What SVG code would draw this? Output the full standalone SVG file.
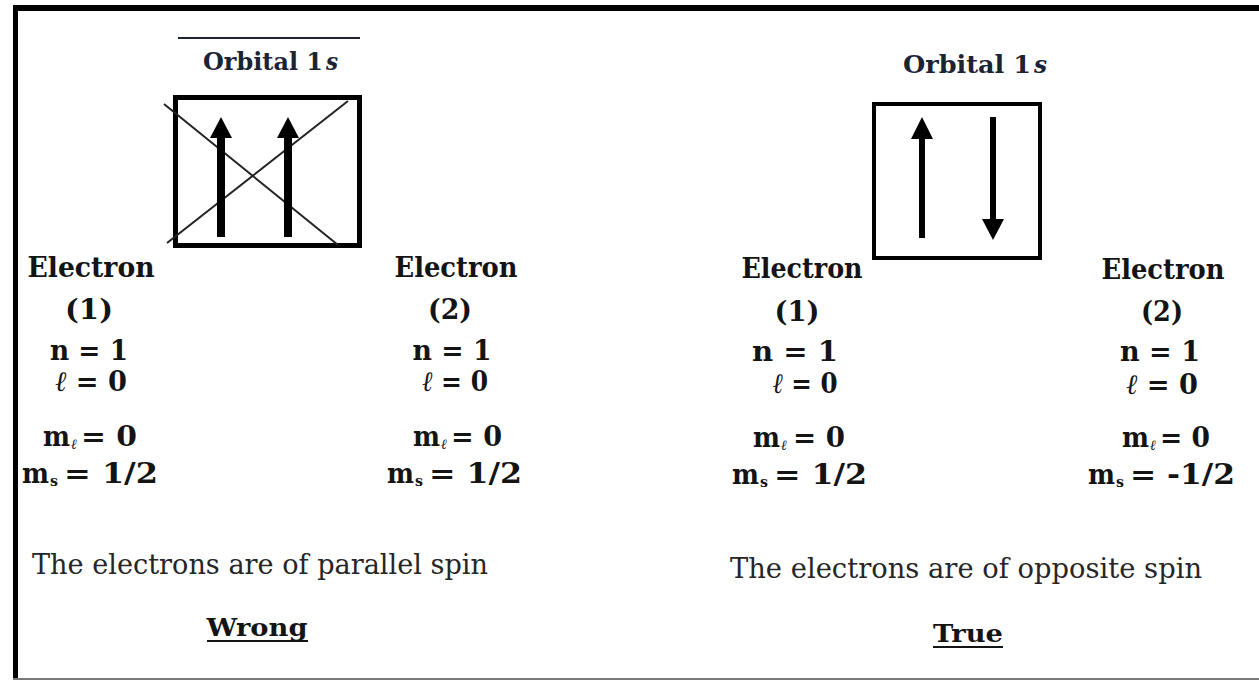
<svg xmlns="http://www.w3.org/2000/svg" width="1259" height="680" viewBox="0 0 1259 680">
  <style>
    .lbl { font-family: "DejaVu Serif", "Liberation Serif", serif; font-weight: bold; fill: #141414; text-anchor: middle; }
    .st { text-anchor: start; }
    .el { font-size: 28px; }
    .orb { font-size: 25px; fill: #1c2433; }
    .cap { font-family: "DejaVu Serif", "Liberation Serif", serif; font-size: 27px; fill: #262626; text-anchor: middle; }
    .verdict { font-family: "DejaVu Serif", "Liberation Serif", serif; font-weight: bold; font-size: 25px; fill: #141414; text-anchor: middle; }
    .sub { font-size: 14px; }
    .it { font-style: italic; }
    .box { fill: #ffffff; stroke: #000000; }
    .cross { stroke: #222222; stroke-width: 2; fill: none; }
    .shaft { stroke: #000000; fill: none; }
    .head { fill: #000000; }
  </style>
  <rect x="0" y="0" width="1259" height="680" fill="#ffffff"/>
  <g id="frame">
    <rect x="13" y="5" width="1246" height="6" fill="#000000"/>
    <rect x="13" y="5" width="5" height="675" fill="#000000"/>
    <rect x="13" y="678" width="1246" height="2" fill="#7a7a7a"/>
  </g>

  <g id="wrong-orbital">
    <line x1="178" y1="38" x2="360" y2="38" stroke="#1c2433" stroke-width="2"/>
    <text class="lbl st orb" x="203" y="70" textLength="120" lengthAdjust="spacingAndGlyphs">Orbital 1</text>
    <text class="lbl st orb it" x="326" y="70" textLength="12" lengthAdjust="spacingAndGlyphs">s</text>
    <rect class="box" x="175.5" y="97.5" width="184" height="148" stroke-width="5"/>
    <line class="cross" x1="164" y1="104" x2="338" y2="245"/>
    <line class="cross" x1="167" y1="243" x2="348" y2="101"/>
  </g>

  <g id="true-orbital">
    <text class="lbl st orb" x="903" y="73" textLength="128" lengthAdjust="spacingAndGlyphs">Orbital 1</text>
    <text class="lbl st orb it" x="1034" y="73" textLength="13" lengthAdjust="spacingAndGlyphs">s</text>
    <rect class="box" x="874" y="104" width="166" height="154" stroke-width="4"/>
  </g>

  <g id="connectors">
    <line class="shaft" x1="221" y1="237" x2="221" y2="132" stroke-width="8"/>
    <polygon class="head" points="221,117 232,138 210,138"/>
    <line class="shaft" x1="288" y1="237" x2="288" y2="132" stroke-width="8"/>
    <polygon class="head" points="288,117 299,138 277,138"/>
    <line class="shaft" x1="922" y1="238" x2="922" y2="134" stroke-width="6"/>
    <polygon class="head" points="922,117 933,139 911,139"/>
    <line class="shaft" x1="993" y1="117" x2="993" y2="224" stroke-width="6"/>
    <polygon class="head" points="993,240 1004,219 982,219"/>
  </g>

  <g id="wrong-electron-1">
    <text class="lbl el" x="91" y="277" textLength="127" lengthAdjust="spacingAndGlyphs">Electron</text>
    <text class="lbl el" x="89" y="319" textLength="48" lengthAdjust="spacingAndGlyphs">(1)</text>
    <text class="lbl el" x="89" y="360" textLength="78" lengthAdjust="spacingAndGlyphs">n = 1</text>
    <text class="lbl el" x="91" y="391" textLength="72" lengthAdjust="spacingAndGlyphs"><tspan font-style="italic" font-weight="normal">ℓ</tspan> = 0</text>
    <text class="lbl st el" x="43" y="446" textLength="27" lengthAdjust="spacingAndGlyphs">m</text>
    <text class="lbl st sub it" x="71" y="449" textLength="6" lengthAdjust="spacingAndGlyphs">ℓ</text>
    <text class="lbl st el" x="81" y="446" textLength="56" lengthAdjust="spacingAndGlyphs">= 0</text>
    <text class="lbl st el" x="22" y="483" textLength="27" lengthAdjust="spacingAndGlyphs">m</text>
    <text class="lbl st sub" x="50" y="486" textLength="8" lengthAdjust="spacingAndGlyphs">s</text>
    <text class="lbl st el" x="64" y="483" textLength="94" lengthAdjust="spacingAndGlyphs">= 1/2</text>
  </g>

  <g id="wrong-electron-2">
    <text class="lbl el" x="456" y="277" textLength="123" lengthAdjust="spacingAndGlyphs">Electron</text>
    <text class="lbl el" x="450" y="319" textLength="44" lengthAdjust="spacingAndGlyphs">(2)</text>
    <text class="lbl el" x="452" y="360" textLength="79" lengthAdjust="spacingAndGlyphs">n = 1</text>
    <text class="lbl el" x="455" y="391" textLength="66" lengthAdjust="spacingAndGlyphs"><tspan font-style="italic" font-weight="normal">ℓ</tspan> = 0</text>
    <text class="lbl st el" x="413" y="446" textLength="27" lengthAdjust="spacingAndGlyphs">m</text>
    <text class="lbl st sub it" x="441" y="449" textLength="6" lengthAdjust="spacingAndGlyphs">ℓ</text>
    <text class="lbl st el" x="451" y="446" textLength="51" lengthAdjust="spacingAndGlyphs">= 0</text>
    <text class="lbl st el" x="387" y="483" textLength="27" lengthAdjust="spacingAndGlyphs">m</text>
    <text class="lbl st sub" x="415" y="486" textLength="8" lengthAdjust="spacingAndGlyphs">s</text>
    <text class="lbl st el" x="429" y="483" textLength="93" lengthAdjust="spacingAndGlyphs">= 1/2</text>
  </g>

  <g id="true-electron-1">
    <text class="lbl el" x="802" y="278" textLength="121" lengthAdjust="spacingAndGlyphs">Electron</text>
    <text class="lbl el" x="797" y="321" textLength="45" lengthAdjust="spacingAndGlyphs">(1)</text>
    <text class="lbl el" x="795" y="361" textLength="86" lengthAdjust="spacingAndGlyphs">n = 1</text>
    <text class="lbl el" x="805" y="393" textLength="65" lengthAdjust="spacingAndGlyphs"><tspan font-style="italic" font-weight="normal">ℓ</tspan> = 0</text>
    <text class="lbl st el" x="753" y="447" textLength="27" lengthAdjust="spacingAndGlyphs">m</text>
    <text class="lbl st sub it" x="781" y="450" textLength="6" lengthAdjust="spacingAndGlyphs">ℓ</text>
    <text class="lbl st el" x="793" y="447" textLength="52" lengthAdjust="spacingAndGlyphs">= 0</text>
    <text class="lbl st el" x="732" y="484" textLength="27" lengthAdjust="spacingAndGlyphs">m</text>
    <text class="lbl st sub" x="760" y="487" textLength="8" lengthAdjust="spacingAndGlyphs">s</text>
    <text class="lbl st el" x="774" y="484" textLength="93" lengthAdjust="spacingAndGlyphs">= 1/2</text>
  </g>

  <g id="true-electron-2">
    <text class="lbl el" x="1163" y="279" textLength="123" lengthAdjust="spacingAndGlyphs">Electron</text>
    <text class="lbl el" x="1162" y="321" textLength="42" lengthAdjust="spacingAndGlyphs">(2)</text>
    <text class="lbl el" x="1160" y="361" textLength="80" lengthAdjust="spacingAndGlyphs">n = 1</text>
    <text class="lbl el" x="1162" y="394" textLength="72" lengthAdjust="spacingAndGlyphs"><tspan font-style="italic" font-weight="normal">ℓ</tspan> = 0</text>
    <text class="lbl st el" x="1122" y="447" textLength="27" lengthAdjust="spacingAndGlyphs">m</text>
    <text class="lbl st sub it" x="1150" y="450" textLength="6" lengthAdjust="spacingAndGlyphs">ℓ</text>
    <text class="lbl st el" x="1160" y="447" textLength="50" lengthAdjust="spacingAndGlyphs">= 0</text>
    <text class="lbl st el" x="1088" y="484" textLength="27" lengthAdjust="spacingAndGlyphs">m</text>
    <text class="lbl st sub" x="1116" y="487" textLength="8" lengthAdjust="spacingAndGlyphs">s</text>
    <text class="lbl st el" x="1130" y="484" textLength="105" lengthAdjust="spacingAndGlyphs">= -1/2</text>
  </g>

  <g id="wrong-caption">
    <text class="cap" x="260" y="574" textLength="456" lengthAdjust="spacingAndGlyphs">The electrons are of parallel spin</text>
    <text class="verdict" x="257" y="636" textLength="101" lengthAdjust="spacingAndGlyphs">Wrong</text>
    <line x1="207" y1="641" x2="308" y2="641" stroke="#141414" stroke-width="2"/>
  </g>

  <g id="true-caption">
    <text class="cap" x="966" y="578" textLength="472" lengthAdjust="spacingAndGlyphs">The electrons are of opposite spin</text>
    <text class="verdict" x="968" y="642" textLength="70" lengthAdjust="spacingAndGlyphs">True</text>
    <line x1="933" y1="647" x2="1003" y2="647" stroke="#141414" stroke-width="2"/>
  </g>
</svg>
